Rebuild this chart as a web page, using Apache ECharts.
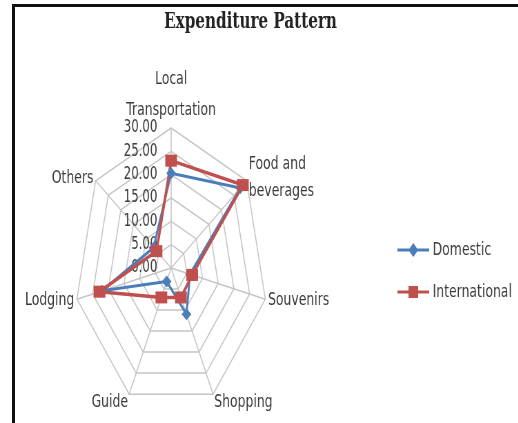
<!DOCTYPE html>
<html>
<head>
<meta charset="utf-8">
<script src="https://cdn.jsdelivr.net/npm/echarts@6/dist/echarts.min.js"></script>
<style>
  html, body { margin: 0; padding: 0; background: #fff; overflow: hidden; }
  #stage { position: relative; width: 518px; height: 423px; overflow: hidden; }
  #frame { position: absolute; left: 12px; top: 4px; width: 520px; height: 430px;
           border-top: 3px solid #111; border-left: 3px solid #111; box-sizing: border-box; }
  /* the chart is laid out wide and compressed horizontally */
  #chart { position: absolute; left: 0; top: 0; width: 751px; height: 423px;
           transform: scaleX(0.69); transform-origin: 0 0; }
</style>
</head>
<body>
<div id="stage">
  <div id="chart"></div>
  <div id="frame"></div>
</div>
<script>
// Spend categories, clockwise from the top
const categories = ['Local\nTransportation', 'Food and\nbeverages', 'Souvenirs', 'Shopping', 'Guide', 'Lodging', 'Others'];
// Share of expenditure per category
const domestic = [20.3, 27.5, 6.0, 11.0, 3.2, 22.0, 7.0];
const international = [23.0, 28.5, 6.7, 7.0, 7.0, 22.8, 5.8];
const seriesNames = ['Domestic', 'International'];
const scaleMax = 30;

const blue = '#4a7ebb';
const red = '#c0504d';
const textColor = '#3a3a3a';

// ECharts lays radar indicators out counter-clockwise; keep the first
// category at the top and reverse the rest so they run clockwise.
const order = [0].concat(categories.map((_, i) => i).slice(1).reverse());
const reorder = arr => order.map(i => arr[i]);

const chart = echarts.init(document.getElementById('chart'), null, { renderer: 'canvas' });

const indicator = reorder(categories).map((name, i) => {
  const ind = { name: name, min: 0, max: scaleMax };
  if (i > 0) ind.axisLabel = { show: false };
  return ind;
});

// Per-label line styling for the category names
function nameFormatter(name) {
  const lines = name.split('\n');
  if (name === categories[0]) {
    return '{top1|' + lines[0] + '}\n{top2|' + lines[1] + '}';
  }
  if (lines.length > 1) {
    return lines.map(l => '{two|' + l + '}').join('\n');
  }
  if (name === categories[3] || name === categories[4]) {
    return '{low|' + name + '}';
  }
  return '{one|' + name + '}';
}

const nameFont = { fontFamily: 'DejaVu Sans', fontSize: 18, color: textColor };

chart.setOption({
  animation: false,
  backgroundColor: 'transparent',
  title: {
    text: 'Expenditure Pattern',
    left: 358,
    top: 6,
    textAlign: 'center',
    textStyle: { fontFamily: 'DejaVu Serif', fontWeight: 'bold', fontSize: 22, color: '#222' }
  },
  legend: {
    orient: 'vertical',
    left: 571,
    top: 236,
    itemWidth: 46,
    itemHeight: 14,
    itemGap: 24,
    textStyle: { fontFamily: 'DejaVu Sans', fontSize: 18, color: textColor },
    data: [
      { name: seriesNames[0], icon: 'path://M0,5.5L46,5.5L46,8.5L0,8.5Z M23,0L30,7L23,14L16,7Z' },
      { name: seriesNames[1], icon: 'path://M0,5.5L46,5.5L46,8.5L0,8.5Z M16,1L30,1L30,13L16,13Z' }
    ]
  },
  radar: {
    center: [248, 268],
    radius: 140,
    startAngle: 90,
    splitNumber: 6,
    shape: 'polygon',
    indicator: indicator,
    nameGap: 4,
    axisName: {
      fontFamily: 'DejaVu Sans',
      fontSize: 18,
      color: textColor,
      formatter: nameFormatter,
      rich: {
        top1: Object.assign({ lineHeight: 44 }, nameFont),
        top2: Object.assign({ lineHeight: 18 }, nameFont),
        two: Object.assign({ lineHeight: 27 }, nameFont),
        one: Object.assign({ lineHeight: 22 }, nameFont),
        low: Object.assign({ lineHeight: 22, padding: [10, 0, 0, 0] }, nameFont)
      }
    },
    axisLine: { show: true, lineStyle: { color: '#c4c4c4', width: 1.5 } },
    splitLine: { show: true, lineStyle: { color: '#c4c4c4', width: 1.5 } },
    splitArea: { show: false },
    axisTick: { show: false },
    axisLabel: {
      show: true,
      margin: 20,
      fontFamily: 'DejaVu Sans',
      fontSize: 17,
      color: textColor,
      formatter: v => Number(v).toFixed(2)
    }
  },
  series: [{
    type: 'radar',
    symbol: 'diamond',
    symbolSize: [14, 12],
    lineStyle: { color: blue, width: 3 },
    itemStyle: { color: blue },
    data: [{ name: seriesNames[0], value: reorder(domestic) }]
  }, {
    type: 'radar',
    symbol: 'rect',
    symbolSize: [17, 12],
    lineStyle: { color: red, width: 3.5 },
    itemStyle: { color: red },
    data: [{ name: seriesNames[1], value: reorder(international) }]
  }]
});
</script>
</body>
</html>
